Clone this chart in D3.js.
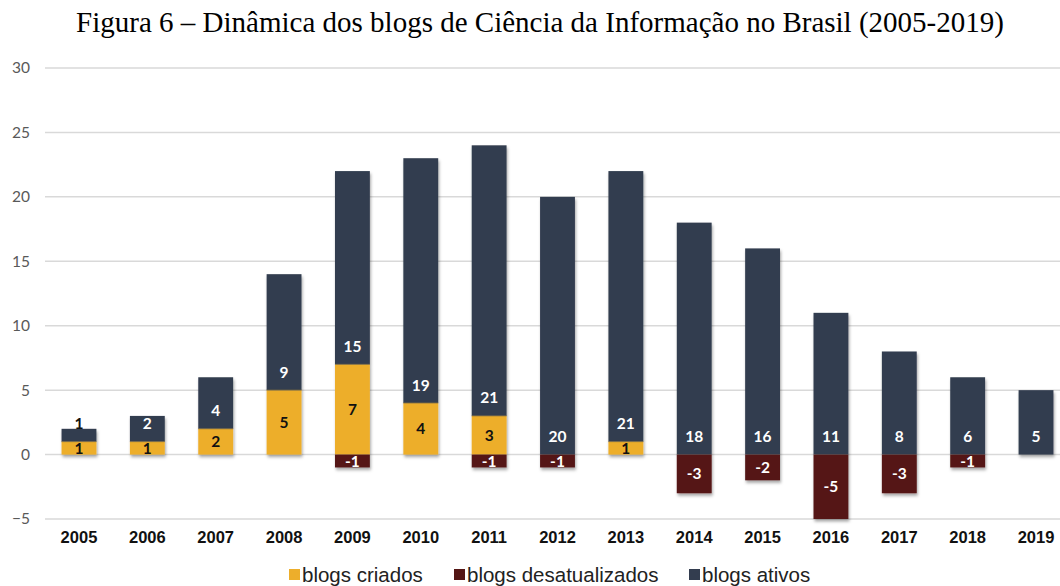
<!DOCTYPE html>
<html>
<head>
<meta charset="utf-8">
<script src="https://cdn.jsdelivr.net/npm/d3@7"></script>
<style>
  body { margin: 0; background: #fff; }
  .title { font-family: "Liberation Serif", "Times New Roman", serif; font-size: 29px; fill: #000; }
  .ytick { font-family: Lato, "Open Sans", sans-serif; font-size: 15.5px; fill: #595959; }
  .xtick { font-family: "Liberation Sans", Arial, sans-serif; font-size: 16.5px; font-weight: bold; fill: #111; }
  .lbl { font-family: Lato, "Open Sans", sans-serif; font-size: 15.5px; font-weight: bold; }
  .legend { font-family: "Liberation Sans", Arial, sans-serif; font-size: 20.5px; fill: #222; }
</style>
</head>
<body>
<div id="chart"></div>
<script>
// data
var years = ['2005','2006','2007','2008','2009','2010','2011','2012','2013','2014','2015','2016','2017','2018','2019'];
var criados = [1, 1, 2, 5, 7, 4, 3, 0, 1, 0, 0, 0, 0, 0, 0];
var ativos = [1, 2, 4, 9, 15, 19, 21, 20, 21, 18, 16, 11, 8, 6, 5];
var desatualizados = [0, 0, 0, 0, -1, 0, -1, -1, 0, -3, -2, -5, -3, -1, 0];
var yTicks = [-5, 0, 5, 10, 15, 20, 25, 30];
var seriesNames = ['blogs criados', 'blogs desatualizados', 'blogs ativos'];
var colors = ['#EDAE2B', '#541615', '#333D4F'];

var svgWidth = 1060;
var svgHeight = 586;

var svg = d3.select('#chart')
    .append('svg')
    .attr('width', svgWidth)
    .attr('height', svgHeight);

// soft shadow under the bars
var defs = svg.append('defs');
defs.append('filter')
    .attr('id', 'shadow')
    .attr('x', '-20%').attr('y', '-20%')
    .attr('width', '150%').attr('height', '150%')
    .append('feDropShadow')
    .attr('dx', 1).attr('dy', 2.5)
    .attr('stdDeviation', 1.6)
    .attr('flood-color', '#000')
    .attr('flood-opacity', 0.35);

svg.append('text')
    .attr('class', 'title')
    .attr('x', 540)
    .attr('y', 32)
    .attr('text-anchor', 'middle')
    .text('Figura 6 – Dinâmica dos blogs de Ciência da Informação no Brasil (2005-2019)');

var yScale = d3.scaleLinear().domain([-5, 30]).range([519, 68]);
var xScale = d3.scaleBand()
    .domain(years)
    .range([44.8, 1070.2])
    .paddingInner(0.49)
    .paddingOuter(0.245);

// gridlines
svg.append('g')
    .selectAll('line')
    .data(yTicks)
    .enter()
    .append('line')
    .attr('x1', 45)
    .attr('x2', 1060)
    .attr('y1', function (d) { return yScale(d); })
    .attr('y2', function (d) { return yScale(d); })
    .attr('stroke', '#d9d9d9')
    .attr('stroke-width', 1.5);

// y axis labels
var leftAxis = d3.axisLeft(yScale).tickValues(yTicks).tickSize(0).tickPadding(0);
var yAxisG = svg.append('g')
    .attr('transform', 'translate(30,0)')
    .call(leftAxis);
yAxisG.select('.domain').remove();
yAxisG.selectAll('text').attr('class', 'ytick').attr('fill', null);

// x axis labels
var bottomAxis = d3.axisBottom(xScale).tickSize(0).tickPadding(0);
var xAxisG = svg.append('g')
    .attr('transform', 'translate(0,529)')
    .call(bottomAxis);
xAxisG.select('.domain').remove();
xAxisG.selectAll('text').attr('class', 'xtick').attr('fill', null).attr('dy', '0.85em');

// build stacked rows
var rows = years.map(function (y, i) {
    return { year: y, c: criados[i], a: ativos[i], d: desatualizados[i] };
});

var bars = svg.append('g').attr('filter', 'url(#shadow)');

// criados: from 0 up
bars.selectAll('.crd')
    .data(rows.filter(function (r) { return r.c > 0; }))
    .enter()
    .append('rect')
    .attr('x', function (r) { return xScale(r.year); })
    .attr('width', xScale.bandwidth())
    .attr('y', function (r) { return yScale(r.c); })
    .attr('height', function (r) { return yScale(0) - yScale(r.c); })
    .attr('fill', colors[0]);

// ativos: on top of criados
bars.selectAll('.atv')
    .data(rows)
    .enter()
    .append('rect')
    .attr('x', function (r) { return xScale(r.year); })
    .attr('width', xScale.bandwidth())
    .attr('y', function (r) { return yScale(r.c + r.a); })
    .attr('height', function (r) { return yScale(r.c) - yScale(r.c + r.a); })
    .attr('fill', colors[2]);

// desatualizados: below 0
bars.selectAll('.des')
    .data(rows.filter(function (r) { return r.d < 0; }))
    .enter()
    .append('rect')
    .attr('x', function (r) { return xScale(r.year); })
    .attr('width', xScale.bandwidth())
    .attr('y', yScale(0))
    .attr('height', function (r) { return yScale(r.d) - yScale(0); })
    .attr('fill', colors[1]);

// thin separators between stacked segments
svg.append('g')
    .selectAll('line')
    .data(rows.filter(function (r) { return r.c > 0; }))
    .enter()
    .append('line')
    .attr('x1', function (r) { return xScale(r.year); })
    .attr('x2', function (r) { return xScale(r.year) + xScale.bandwidth(); })
    .attr('y1', function (r) { return yScale(r.c); })
    .attr('y2', function (r) { return yScale(r.c); })
    .attr('stroke', '#8a7440')
    .attr('stroke-width', 0.8);

var labels = svg.append('g').attr('class', 'lbl').attr('text-anchor', 'middle');

// criados labels, centered
labels.selectAll('.lc')
    .data(rows.filter(function (r) { return r.c > 0; }))
    .enter()
    .append('text')
    .attr('x', function (r) { return xScale(r.year) + xScale.bandwidth() / 2; })
    .attr('y', function (r) { return (yScale(0) + yScale(r.c)) / 2; })
    .attr('dy', '0.36em')
    .attr('fill', '#111')
    .text(function (r) { return r.c; });

// ativos labels, inside base
labels.selectAll('.la')
    .data(rows)
    .enter()
    .append('text')
    .attr('x', function (r) { return xScale(r.year) + xScale.bandwidth() / 2; })
    .attr('y', function (r) { return yScale(r.c) - 18; })
    .attr('dy', '0.36em')
    .attr('fill', function (r) {
        return (yScale(r.c) - yScale(r.c + r.a)) < 20 ? '#111' : '#fff';
    })
    .text(function (r) { return r.a; });

// desatualizados labels, centered
labels.selectAll('.ld')
    .data(rows.filter(function (r) { return r.d < 0; }))
    .enter()
    .append('text')
    .attr('x', function (r) { return xScale(r.year) + xScale.bandwidth() / 2; })
    .attr('y', function (r) { return (yScale(0) + yScale(r.d)) / 2; })
    .attr('dy', '0.36em')
    .attr('fill', '#fff')
    .text(function (r) { return r.d; });

// legend
var legendX = [289, 454, 689];
var legend = svg.append('g');
seriesNames.forEach(function (name, i) {
    legend.append('rect')
        .attr('x', legendX[i])
        .attr('y', 569)
        .attr('width', 11)
        .attr('height', 11)
        .attr('fill', colors[i]);
    legend.append('text')
        .attr('class', 'legend')
        .attr('x', legendX[i] + 13)
        .attr('y', 582)
        .text(name);
});
</script>
</body>
</html>
